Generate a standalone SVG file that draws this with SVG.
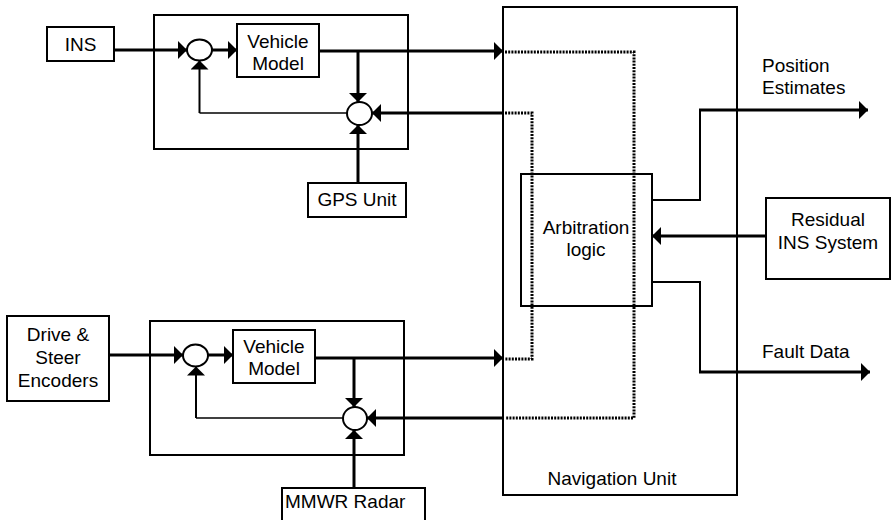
<svg xmlns="http://www.w3.org/2000/svg" width="891" height="520" viewBox="0 0 891 520">
<style>
  .box { fill: #fff; stroke: #000; stroke-width: 2; }
  .frame { fill: none; stroke: #000; stroke-width: 2; }
  .sum { fill: #fff; stroke: #000; stroke-width: 2; }
  .txt { font-family: "Liberation Sans", Arial, sans-serif; font-size: 19px; fill: #000; }
  .mid { text-anchor: middle; }
  .sig { fill: none; stroke: #000; stroke-width: 3; }
  .thin { fill: none; stroke: #000; stroke-width: 1.6; }
  .fb { fill: none; stroke: #000; stroke-width: 2; }
  .dot { fill: none; stroke: #000; stroke-width: 3; stroke-dasharray: 2 1.2; }
</style>
<defs>
  <marker id="ah" markerUnits="userSpaceOnUse" markerWidth="10" markerHeight="18" refX="9" refY="9" orient="auto">
    <path d="M0,0 L9,9 L0,18 Z" fill="#000"/>
  </marker>
</defs>

<g id="top-module">
  <rect class="frame" x="154" y="15" width="254" height="134"/>
</g>
<g id="ins">
  <rect class="box" x="47" y="27" width="67" height="34"/>
  <text class="txt mid" x="80.5" y="51">INS</text>
</g>
<g id="sum1-top">
  <ellipse class="sum" cx="199.5" cy="50" rx="12.5" ry="10.5"/>
</g>
<g id="vm-top">
  <rect class="box" x="237" y="24" width="82" height="53"/>
  <text class="txt mid" x="278" y="48">Vehicle</text>
  <text class="txt mid" x="278" y="70">Model</text>
</g>
<g id="sum2-top">
  <ellipse class="sum" cx="359.5" cy="113.5" rx="12.5" ry="11.5"/>
</g>
<g id="gps">
  <rect class="box" x="308" y="183" width="98" height="34"/>
  <text class="txt mid" x="357" y="206">GPS Unit</text>
</g>

<g id="bottom-module">
  <rect class="frame" x="150" y="321" width="254" height="134"/>
</g>
<g id="drive">
  <rect class="box" x="7" y="316" width="102" height="85"/>
  <text class="txt mid" x="58" y="341">Drive &amp;</text>
  <text class="txt mid" x="58" y="364">Steer</text>
  <text class="txt mid" x="58" y="387">Encoders</text>
</g>
<g id="sum1-bottom">
  <ellipse class="sum" cx="195.5" cy="355.5" rx="12.5" ry="11"/>
</g>
<g id="vm-bottom">
  <rect class="box" x="233" y="330" width="82" height="53"/>
  <text class="txt mid" x="274" y="353">Vehicle</text>
  <text class="txt mid" x="274" y="375">Model</text>
</g>
<g id="sum2-bottom">
  <ellipse class="sum" cx="355" cy="418.5" rx="12" ry="11.5"/>
</g>
<g id="mmwr">
  <rect class="box" x="282" y="488" width="143" height="40"/>
  <text class="txt" x="285" y="508">MMWR Radar</text>
</g>

<g id="nav">
  <rect class="frame" x="503" y="7" width="234" height="488"/>
  <text class="txt mid" x="612" y="485">Navigation Unit</text>
</g>
<g id="arb">
  <rect class="frame" x="521" y="174" width="131" height="132"/>
  <text class="txt mid" x="586" y="234">Arbitration</text>
  <text class="txt mid" x="586" y="256">logic</text>
</g>
<g id="residual">
  <rect class="box" x="766" y="198" width="124" height="81"/>
  <text class="txt mid" x="828" y="226">Residual</text>
  <text class="txt mid" x="828" y="249">INS System</text>
</g>
<g id="labels">
  <text class="txt" x="762" y="72">Position</text>
  <text class="txt" x="762" y="94">Estimates</text>
  <text class="txt" x="762" y="358">Fault Data</text>
</g>

<g id="connectors">
  <!-- top module -->
  <line class="sig" x1="114" y1="50" x2="187" y2="50" marker-end="url(#ah)"/>
  <line class="sig" x1="212" y1="50" x2="237" y2="50" marker-end="url(#ah)"/>
  <line class="sig" x1="319" y1="51" x2="503" y2="51" marker-end="url(#ah)"/>
  <line class="sig" x1="358" y1="51" x2="358" y2="102" marker-end="url(#ah)"/>
  <polyline class="thin" points="347,113 199.5,113"/>
  <line class="fb" x1="199.5" y1="113" x2="199.5" y2="60.5" marker-end="url(#ah)"/>
  <line class="sig" x1="358" y1="183" x2="358" y2="125" marker-end="url(#ah)"/>
  <line class="sig" x1="503" y1="113" x2="372" y2="113" marker-end="url(#ah)"/>
  <!-- bottom module -->
  <line class="sig" x1="109" y1="355" x2="183" y2="355" marker-end="url(#ah)"/>
  <line class="sig" x1="208" y1="355" x2="233" y2="355" marker-end="url(#ah)"/>
  <line class="sig" x1="315" y1="358" x2="503" y2="358" marker-end="url(#ah)"/>
  <line class="sig" x1="354" y1="358" x2="354" y2="407" marker-end="url(#ah)"/>
  <polyline class="thin" points="343,418 196,418"/>
  <line class="fb" x1="196" y1="418" x2="196" y2="366.5" marker-end="url(#ah)"/>
  <line class="sig" x1="354" y1="488" x2="354" y2="430" marker-end="url(#ah)"/>
  <line class="sig" x1="503" y1="418" x2="367" y2="418" marker-end="url(#ah)"/>
  <!-- dotted links inside navigation unit -->
  <polyline class="dot" points="505,52 634,52 634,418 505,418"/>
  <polyline class="dot" points="505,113 532,113 532,359 505,359"/>
  <!-- arbitration outputs / inputs -->
  <polyline class="fb" points="652,200 700,200 700,110"/>
  <line class="sig" x1="699" y1="110" x2="868" y2="110" marker-end="url(#ah)"/>
  <polyline class="fb" points="652,282 700,282 700,372"/>
  <line class="sig" x1="699" y1="372" x2="870" y2="372" marker-end="url(#ah)"/>
  <line class="sig" x1="766" y1="236" x2="652" y2="236" marker-end="url(#ah)"/>
</g>
</svg>
